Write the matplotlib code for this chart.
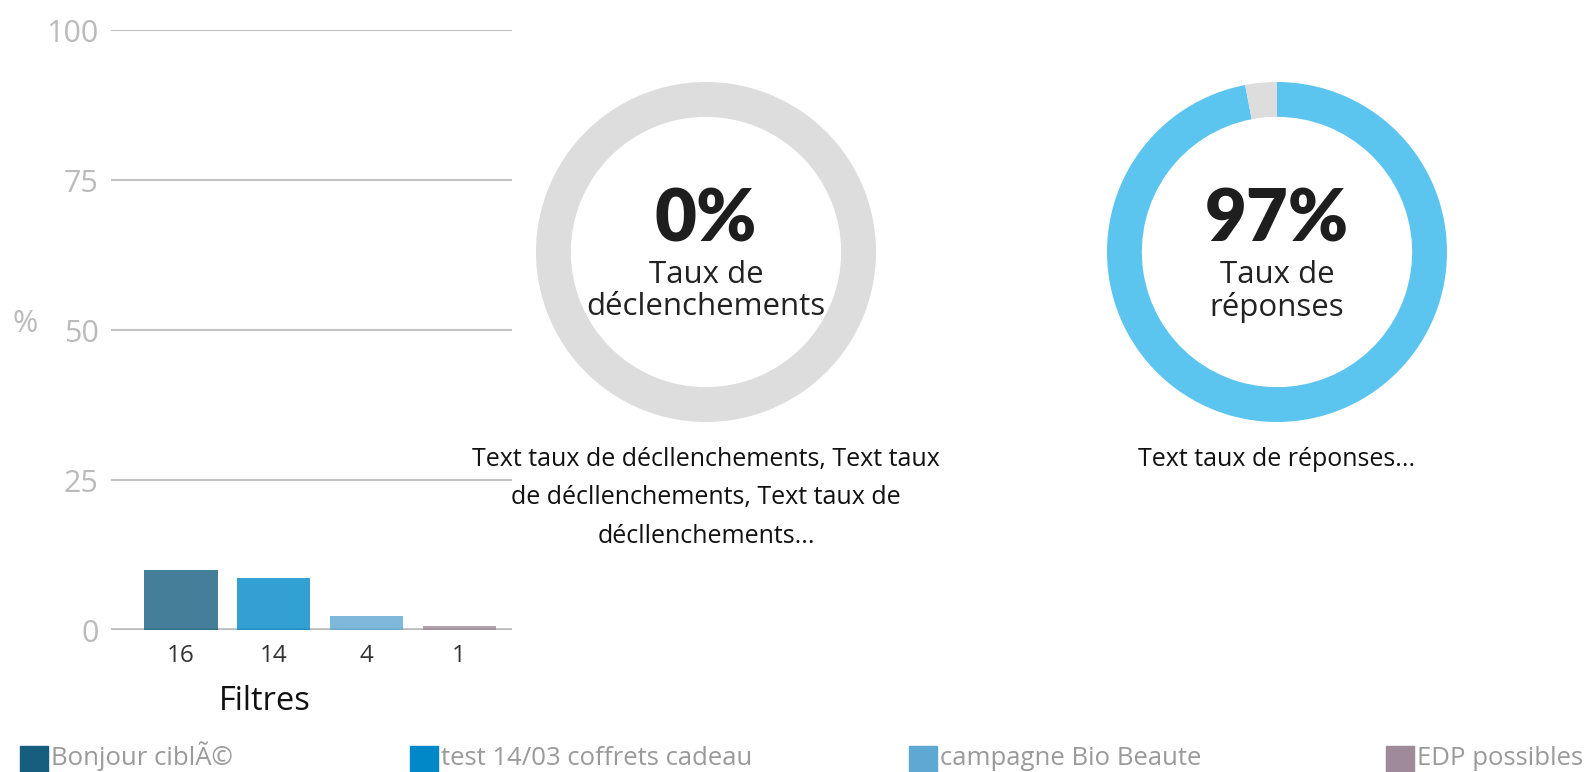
import matplotlib.pyplot as plt
from matplotlib.patches import Rectangle

# data
filtres = ["16", "14", "4", "1"]
bar_pct = [10.0, 8.7, 2.4, 0.6]
legend_names = ["Bonjour ciblÃ©", "test 14/03 coffrets cadeau", "campagne Bio Beaute", "EDP possibles"]
legend_colors = ["#155e7e", "#0088c8", "#5ea8d4", "#9e8a99"]
y_ticks = [0, 25, 50, 75, 100]

taux_declenchements = 0
taux_reponses = 97

plt.rcParams["font.family"] = ["Open Sans", "DejaVu Sans"]

W, H = 1587, 772
fig = plt.figure(figsize=(W / 100, H / 100), dpi=100)

def px(x, y, w, h):
    # pixel box (top-left origin) -> figure fraction
    return [x / W, 1 - (y + h) / H, w / W, h / H]

# ---- bar chart ----
ax = fig.add_axes(px(111, 30, 401, 600))
xs = range(len(filtres))
ax.bar(xs, bar_pct, width=0.79, color=legend_colors, alpha=0.8, zorder=3)
ax.set_ylim(0, 100)
ax.set_xlim(-0.755, 3.57)
ax.set_yticks(y_ticks)
ax.set_yticklabels([str(v) for v in y_ticks])
ax.set_xticks(list(xs))
ax.set_xticklabels(filtres)
for s in ax.spines.values():
    s.set_visible(False)
ax.tick_params(axis="y", length=0, pad=9, labelsize=22, labelcolor="#bbbbbb")
ax.tick_params(axis="x", length=0, pad=10, labelsize=17.5, labelcolor="#333333")
for v in y_ticks[1:]:
    ax.axhline(v, color="#c2c2c2", lw=1.5, zorder=1)
ax.axhline(0, color="#bbbbbb", lw=2.6, zorder=2)
ax.set_xlabel("Filtres", fontsize=23.5, color="#111111", va="center")
ax.xaxis.set_label_coords(0.384, -0.12)
ax.set_ylabel("%", rotation=0, fontsize=22, color="#bbbbbb", va="center", ha="center")
ax.yaxis.set_label_coords(-0.214, 0.51)

# ---- donuts ----
def donut(cx, cy, pct, title_lines, caption):
    d = fig.add_axes(px(cx - 170, cy - 170, 340, 340))
    vals = [pct, 100 - pct]
    d.pie(vals, colors=["#5bc5f0", "#dddddd"], startangle=90, counterclock=False,
          radius=1, wedgeprops=dict(width=0.205, linewidth=0))
    d.set_xlim(-1, 1)
    d.set_ylim(-1, 1)
    d.set_aspect("equal")
    d.axis("off")
    d.text(0, 0.185, f"{pct}%", ha="center", va="center", fontsize=52,
           fontweight="heavy", family=["Lato", "DejaVu Sans"], color="#1e1e1e")
    d.text(0, -0.135, title_lines[0], ha="center", va="center", fontsize=22.5, color="#222222")
    d.text(0, -0.325, title_lines[1], ha="center", va="center", fontsize=22.5, color="#222222")
    fig.text(cx / W, 1 - (cy + 195) / H, caption, ha="center", va="top",
             fontsize=18, color="#111111", linespacing=1.7)

donut(706, 252, taux_declenchements, ["Taux de", "déclenchements"],
      "Text taux de décllenchements, Text taux\nde décllenchements, Text taux de\ndécllenchements...")
donut(1277, 252, taux_reponses, ["Taux de", "réponses"], "Text taux de réponses...")

# ---- legend ----
leg_x = [20, 410, 909, 1386]
for x, name, c in zip(leg_x, legend_names, legend_colors):
    fig.patches.append(Rectangle((x / W, 0), 28 / W, 26 / H, transform=fig.transFigure,
                                 color=c, figure=fig))
    fig.text((x + 31) / W, 1 / H, name, ha="left", va="bottom", fontsize=18.5,
             color="#9a9a9a")

fig.savefig("out.png", dpi=100)
